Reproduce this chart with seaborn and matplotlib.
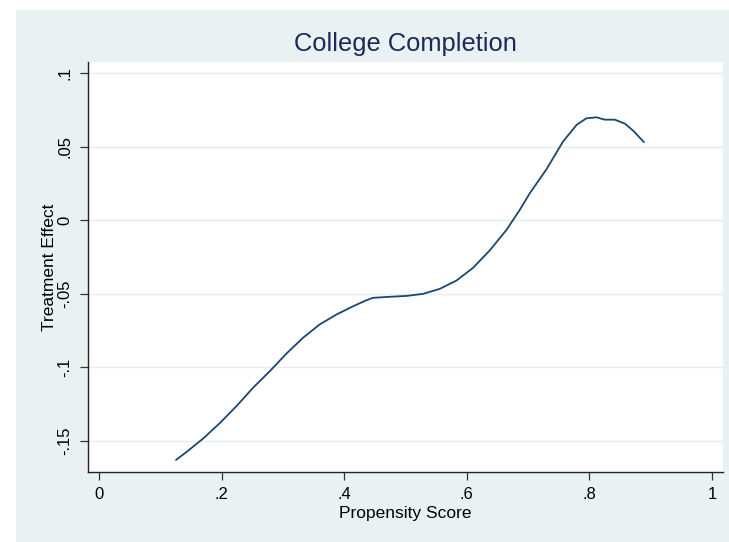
import matplotlib
matplotlib.use("Agg")
import matplotlib.pyplot as plt
from matplotlib.patches import Rectangle
import seaborn as sns
import pandas as pd

# Smoothed treatment effect by propensity score
propensity = [0.1256, 0.143, 0.170, 0.197, 0.2245, 0.2516, 0.2788, 0.306, 0.333,
              0.360, 0.3876, 0.4147, 0.4365, 0.447, 0.4745, 0.5017, 0.5288, 0.556,
              0.583, 0.610, 0.6376, 0.665, 0.6866, 0.703, 0.730, 0.757, 0.779,
              0.795, 0.8115, 0.825, 0.8414, 0.858, 0.8715, 0.889]
effect = [-0.163, -0.1575, -0.1484, -0.1380, -0.1263, -0.1138, -0.1026, -0.0906,
          -0.0799, -0.0709, -0.0641, -0.0585, -0.0544, -0.0528, -0.0521, -0.0515,
          -0.0501, -0.0467, -0.0411, -0.0325, -0.0205, -0.0065, 0.0071, 0.0184,
          0.0346, 0.0534, 0.0647, 0.0692, 0.0699, 0.0683, 0.0683, 0.0656, 0.0608,
          0.0530]

x_ticks = [0, 0.2, 0.4, 0.6, 0.8, 1.0]
x_tick_labels = ["0", ".2", ".4", ".6", ".8", "1"]
y_ticks = [-0.15, -0.10, -0.05, 0.0, 0.05, 0.10]
y_tick_labels = ["-.15", "-.1", "-.05", "0", ".05", ".1"]

df = pd.DataFrame({"Propensity Score": propensity, "Treatment Effect": effect})

sns.set_style("ticks")
plt.rcParams["font.family"] = ["Liberation Sans", "DejaVu Sans"]

W, H = 729, 542
fig = plt.figure(figsize=(W / 100, H / 100), dpi=100)
fig.patch.set_facecolor("white")

# outer graph region, drawn behind the plot area
bg = "#eaf1f3"
fig.patches.append(Rectangle((16 / W, 0), 1 - 16 / W, 1 - 10 / H,
                             transform=fig.transFigure, facecolor=bg,
                             edgecolor="none", zorder=-5))

left, right, top, bottom = 88, 723, 62, 472
pw, ph = right - left, bottom - top
ax = fig.add_axes([left / W, 1 - bottom / H, pw / W, ph / H])
ax.set_facecolor("white")

sns.lineplot(data=df, x="Propensity Score", y="Treatment Effect", ax=ax,
             color="#1a476f", linewidth=1.3, zorder=3)

ax.set_xlim(-0.018, 1.018)
ax.set_ylim(-0.1712, 0.1075)
ax.set_xticks(x_ticks)
ax.set_xticklabels(x_tick_labels)
ax.set_yticks(y_ticks)
ax.set_yticklabels(y_tick_labels, rotation=90, va="center")

for y in y_ticks:
    ax.axhline(y, color="#e4ecef", linewidth=1.0, zorder=1)

for s in ["top", "right"]:
    ax.spines[s].set_visible(False)
for s in ["left", "bottom"]:
    ax.spines[s].set_color("#222222")
    ax.spines[s].set_linewidth(1.0)

ax.tick_params(axis="both", direction="out", length=6, width=0.9,
               color="#333333", labelsize=12, labelcolor="black")
ax.tick_params(axis="x", pad=5)
ax.tick_params(axis="y", pad=5)

ax.set_xlabel("Propensity Score", fontsize=12.5, color="black")
ax.xaxis.label.set_va("baseline")
ax.xaxis.set_label_coords(0.5, (bottom - 518) / ph)

ax.set_ylabel("Treatment Effect", fontsize=12.5, color="black")
ax.yaxis.label.set_va("center")
ax.yaxis.set_label_coords((49 - left) / pw, 0.5)

fig.text((left + right) / 2 / W, 1 - 44 / H, "College Completion",
         ha="center", va="center", fontsize=18.4, color="#1c2a56")

fig.savefig("out.png", dpi=100)
